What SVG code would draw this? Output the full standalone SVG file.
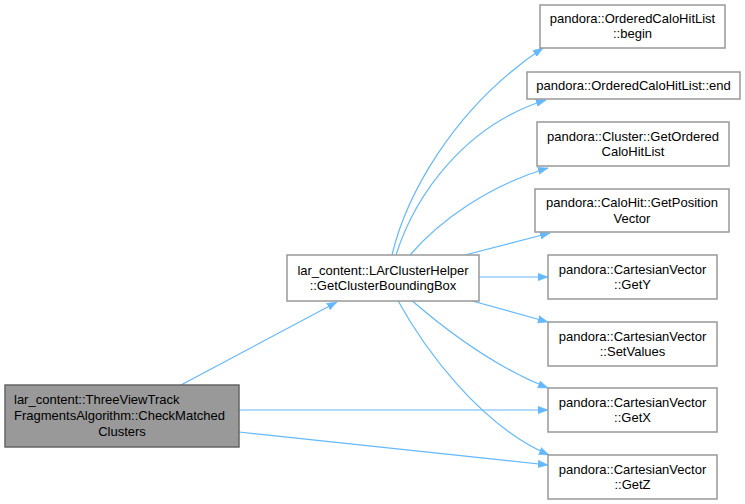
<svg xmlns="http://www.w3.org/2000/svg" width="745" height="504" viewBox="0 0 745 504">
<style>
text{font-family:"Liberation Sans",Arial,sans-serif;font-size:13px;fill:#000}
.n rect{fill:#fff;stroke:#999;stroke-width:1.5}
.m{text-anchor:middle}
#root rect{fill:#999;stroke:#666}
.e path{fill:none;stroke:#63b8ff;stroke-width:1.2;marker-end:url(#ah)}
</style>
<defs>
<marker id="ah" markerUnits="userSpaceOnUse" markerWidth="11" markerHeight="8" refX="10" refY="4" orient="auto">
<path d="M0,0.3 L10,4 L0,7.7 z" fill="#63b8ff" stroke="#63b8ff" stroke-width="0.5"/>
</marker>
</defs>
<rect width="745" height="504" fill="#fff"/>
<g class="e" id="edges">
<path d="M392,255 C405,200 450,110 543,48"/>
<path d="M396,255 C415,195 465,125 546,100"/>
<path d="M410,255 C440,220 490,185 548,168"/>
<path d="M465,255 L550,233"/>
<path d="M479,277 L548,277"/>
<path d="M465,299 L548,322"/>
<path d="M410,299 C440,325 490,365 548,388"/>
<path d="M397,299 C425,350 480,425 549,455"/>
<path d="M181,385 L337,302"/>
<path d="M239,410 L548,410"/>
<path d="M239,432 L548,465"/>
</g>
<g class="n" id="root"><rect x="5" y="385" width="234" height="62"/>
<text x="14" y="404">lar_content::ThreeViewTrack</text>
<text x="14" y="420">FragmentsAlgorithm::CheckMatched</text>
<text class="m" x="122" y="436">Clusters</text></g>
<g class="n" id="helper"><rect x="287" y="255" width="192" height="46"/>
<text class="m" x="383" y="275">lar_content::LArClusterHelper</text>
<text class="m" x="383" y="290">::GetClusterBoundingBox</text></g>
<g class="n" id="begin"><rect x="540" y="5" width="185" height="43"/>
<text class="m" x="632.5" y="23">pandora::OrderedCaloHitList</text>
<text class="m" x="632.5" y="38">::begin</text></g>
<g class="n" id="end"><rect x="527" y="72" width="213" height="27"/>
<text class="m" x="633.5" y="90">pandora::OrderedCaloHitList::end</text></g>
<g class="n" id="getordered"><rect x="537" y="122" width="192" height="44"/>
<text class="m" x="633" y="141">pandora::Cluster::GetOrdered</text>
<text class="m" x="633" y="156">CaloHitList</text></g>
<g class="n" id="getposition"><rect x="535" y="189" width="194" height="43"/>
<text class="m" x="632" y="207">pandora::CaloHit::GetPosition</text>
<text class="m" x="632" y="223">Vector</text></g>
<g class="n" id="gety"><rect x="548" y="255" width="169" height="44"/>
<text class="m" x="632.5" y="274">pandora::CartesianVector</text>
<text class="m" x="632.5" y="289">::GetY</text></g>
<g class="n" id="setvalues"><rect x="548" y="322" width="169" height="44"/>
<text class="m" x="632.5" y="341">pandora::CartesianVector</text>
<text class="m" x="632.5" y="356">::SetValues</text></g>
<g class="n" id="getx"><rect x="548" y="388" width="169" height="44"/>
<text class="m" x="632.5" y="407">pandora::CartesianVector</text>
<text class="m" x="632.5" y="422">::GetX</text></g>
<g class="n" id="getz"><rect x="548" y="455" width="169" height="44"/>
<text class="m" x="632.5" y="474">pandora::CartesianVector</text>
<text class="m" x="632.5" y="489">::GetZ</text></g>
</svg>
